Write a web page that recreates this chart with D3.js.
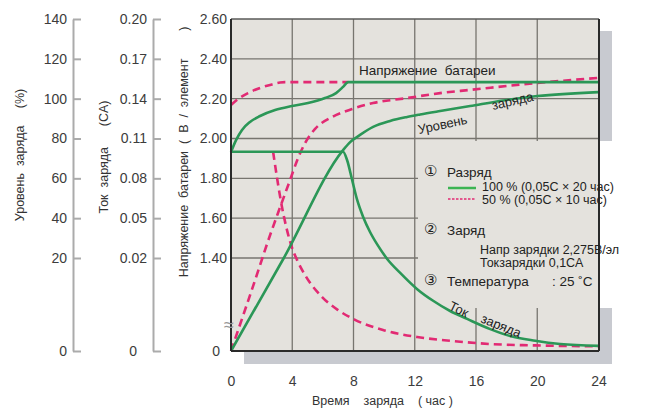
<!DOCTYPE html>
<html>
<head>
<meta charset="utf-8">
<script src="https://cdn.jsdelivr.net/npm/d3@7"></script>
<style>
  body { margin: 0; background: #fff; }
  svg text { font-family: "Liberation Sans", Arial, sans-serif; white-space: pre; }
</style>
</head>
<body>
<div id="chart"></div>
<script>
// 1: DATA (hours, value)
const hourTicks = [0, 4, 8, 12, 16, 20, 24];
const voltTicks = [0, 1.4, 1.6, 1.8, 2.0, 2.2, 2.4, 2.6];
const levelTicks = [0, 20, 40, 60, 80, 100, 120, 140];
const currentTicks = [0, 0.02, 0.05, 0.08, 0.11, 0.14, 0.17, 0.20];
const gridVolts = [1.4, 1.6, 1.8, 2.0, 2.2, 2.4];
const gridHours = [4, 8, 12, 16, 20];

// 100 % discharged (green)
const voltage100 = [[0, 1.932], [0.33, 1.992], [0.72, 2.043], [1.24, 2.083], [1.9, 2.113], [2.88, 2.143],
  [3.99, 2.163], [5.03, 2.178], [6.14, 2.203], [6.86, 2.228], [7.32, 2.259], [7.65, 2.283], [24, 2.283]];
const current100 = [[0, 0.10], [7.32, 0.10], [7.58, 0.0938], [7.91, 0.0788], [8.24, 0.0637], [8.63, 0.0509],
  [9.08, 0.0396], [9.61, 0.0291], [10.2, 0.0198], [11.05, 0.0168], [12.16, 0.0133], [13.2, 0.0108],
  [14.31, 0.0086], [15.42, 0.0069], [16.93, 0.0047], [18.24, 0.0032], [19.87, 0.0022], [21.5, 0.0015], [24, 0.0011]];
const level100 = [[0, 0], [3.45, 20], [7.32, 74.2], [7.78, 78.2], [8.43, 81.8], [9.28, 85.8], [10.39, 88.8],
  [11.5, 90.8], [12.35, 92.05], [13.66, 93.8], [15.62, 96.3], [17.78, 99.1], [20, 101.3], [24, 103.3]];

// 50 % discharged (pink)
const voltage50 = [[0, 2.168], [0.46, 2.198], [1.11, 2.228], [1.9, 2.254], [2.55, 2.269], [3.2, 2.281],
  [3.53, 2.283], [7.65, 2.283]];
const current50 = [[2.75, 0.10], [3.33, 0.0584], [3.99, 0.0276], [4.31, 0.0196], [4.84, 0.0163], [5.95, 0.0116],
  [6.99, 0.0088], [8.1, 0.0067], [9.93, 0.0045], [12.16, 0.0030], [14.31, 0.0022], [16.93, 0.0015],
  [19.87, 0.0012], [24, 0.0010]];
const level50 = [[0, 0], [2.05, 20], [2.22, 24], [3.07, 42.6], [3.86, 59.2], [4.38, 70.2], [4.84, 77.7],
  [5.49, 84.8], [6.6, 90.8], [7.91, 94.8], [9.28, 97.8], [11.5, 100.3], [13.66, 102.8], [15.62, 104.4],
  [20, 107.9], [24, 110.4]];

// 2: SVG + SCALES
const W = 647, H = 412;
const plot = { left: 231, right: 599, top: 19, bottom: 351 };
const svg = d3.select("#chart").append("svg").attr("width", W).attr("height", H);

const x = d3.scaleLinear().domain([0, 24]).range([plot.left, 598.5]);
// the three y axes share one broken scale (compressed bottom part)
const yV = d3.scaleLinear().domain([0, 1.4, 2.6]).range([351, 258, 19]);
const yL = d3.scaleLinear().domain([0, 20, 140]).range([351, 258, 19]);
const yI = d3.scaleLinear().domain([0, 0.02, 0.20]).range([351, 258, 19]);

const green = "#2b9757", pink = "#e22a73";

// 3: PLOT BACKGROUND, SHADOW, GRID
svg.append("rect").attr("x", plot.right).attr("y", 31).attr("width", 13).attr("height", 333).attr("fill", "#c8cad0");
svg.append("rect").attr("x", 244).attr("y", plot.bottom).attr("width", 368).attr("height", 13).attr("fill", "#c8cad0");
svg.append("rect").attr("x", plot.left).attr("y", plot.top)
  .attr("width", plot.right - plot.left).attr("height", plot.bottom - plot.top).attr("fill", "#e4e2dd");

const grid = svg.append("g").attr("stroke", "#77756f").attr("stroke-width", 1.3);
grid.selectAll(".gv").data(gridHours).enter().append("line")
  .attr("x1", d => x(d)).attr("x2", d => x(d)).attr("y1", plot.top).attr("y2", plot.bottom);
grid.selectAll(".gh").data(gridVolts).enter().append("line")
  .attr("x1", plot.left).attr("x2", plot.right).attr("y1", d => yV(d)).attr("y2", d => yV(d));

// legend patch hides the grid
svg.append("rect").attr("x", 418).attr("y", 141).attr("width", plot.right - 418).attr("height", 167).attr("fill", "#e4e2dd");
svg.append("rect").attr("x", plot.right + 1).attr("y", 141).attr("width", 48).attr("height", 167).attr("fill", "#fff");

// 4: CURVES
const line = (ys) => d3.line().x(d => x(d[0])).y(d => ys(d[1])).curve(d3.curveMonotoneX);
const series = [
  { data: voltage50, y: yV, c: pink, dash: "8,5" },
  { data: level50, y: yL, c: pink, dash: "8,5" },
  { data: current50, y: yI, c: pink, dash: "8,5" },
  { data: voltage100, y: yV, c: green, dash: null },
  { data: level100, y: yL, c: green, dash: null },
  { data: current100, y: yI, c: green, dash: null }
];
svg.selectAll(".curve").data(series).enter().append("path")
  .attr("d", d => line(d.y)(d.data))
  .attr("fill", "none")
  .attr("stroke", d => d.c)
  .attr("stroke-width", 2.6)
  .attr("stroke-dasharray", d => d.dash);

// 5: FRAME
svg.append("line").attr("x1", plot.left).attr("x2", plot.right).attr("y1", plot.top).attr("y2", plot.top)
  .attr("stroke", "#5a5a58").attr("stroke-width", 1.6);
svg.append("line").attr("x1", plot.left).attr("x2", plot.right).attr("y1", plot.bottom).attr("y2", plot.bottom)
  .attr("stroke", "#2a2a2a").attr("stroke-width", 2);
svg.append("line").attr("x1", plot.left).attr("x2", plot.left).attr("y1", plot.top).attr("y2", plot.bottom)
  .attr("stroke", "#2a2a2a").attr("stroke-width", 2);
svg.append("line").attr("x1", plot.right).attr("x2", plot.right).attr("y1", plot.top).attr("y2", plot.bottom)
  .attr("stroke", "#2a2a2a").attr("stroke-width", 2);
svg.append("text").attr("x", 229).attr("y", 331).attr("text-anchor", "middle")
  .attr("font-size", 18).attr("fill", "#999").text("≈");

// 6: AXES
const fmt2 = d => d === 0 ? "0" : d.toFixed(2);
function styleAxis(g, lineColor) {
  g.selectAll("text").attr("font-size", 14).attr("fill", "#3c3c3c")
    .style("font-family", "'Liberation Sans', Arial, sans-serif");
  g.selectAll("path, line").attr("stroke", lineColor).attr("stroke-width", 2);
}

const axL = svg.append("g").attr("transform", "translate(73,0)")
  .call(d3.axisLeft(yL).tickValues(levelTicks).tickSizeInner(-8).tickSizeOuter(0).tickPadding(6));
styleAxis(axL, "#ababab");

const axI = svg.append("g").attr("transform", "translate(153,0)")
  .call(d3.axisLeft(yI).tickValues(currentTicks).tickFormat(fmt2).tickSizeInner(-8).tickSizeOuter(0).tickPadding(6));
styleAxis(axI, "#ababab");
axI.selectAll(".tick text").filter(d => d === 0).attr("x", -16);

const axV = svg.append("g").attr("transform", `translate(${plot.left},0)`)
  .call(d3.axisLeft(yV).tickValues(voltTicks).tickFormat(fmt2).tickSize(0).tickPadding(4));
axV.select(".domain").remove();
styleAxis(axV, "none");
axV.selectAll(".tick text").filter(d => d === 0).attr("x", -11);

const axX = svg.append("g").attr("transform", `translate(0,${plot.bottom})`)
  .call(d3.axisBottom(x).tickValues(hourTicks).tickSize(0).tickPadding(25));
axX.select(".domain").remove();
styleAxis(axX, "none");

// 7: AXIS TITLES
const titles = [
  { t: "Уровень  заряда     (%)", x: 20, y: 155 },
  { t: "Ток  заряда      (CA)", x: 104, y: 157 },
  { t: "Напряжение  батареи  (  В  /  элемент        )", x: 184, y: 152 }
];
svg.selectAll(".ytitle").data(titles).enter().append("text")
  .attr("transform", d => `translate(${d.x + 4},${d.y}) rotate(-90)`)
  .attr("text-anchor", "middle").attr("font-size", 12.5).attr("fill", "#333")
  .text(d => d.t);

svg.append("text").attr("x", 312).attr("y", 405).attr("font-size", 12.5).attr("fill", "#333")
  .text("Время    заряда    ( час )");

// 8: CURVE LABELS
const labels = [
  { t: "Напряжение  батареи", x: 359, y: 75, r: 0, s: 13.5 },
  { t: "Уровень", x: 419, y: 134, r: -12, s: 13 },
  { t: "заряда", x: 493, y: 110, r: -13, s: 13 },
  { t: "Ток", x: 448, y: 309, r: 26, s: 13 },
  { t: "заряда", x: 480, y: 322, r: 22, s: 13 }
];
svg.selectAll(".clabel").data(labels).enter().append("text")
  .attr("transform", d => `translate(${d.x},${d.y}) rotate(${d.r})`)
  .attr("font-size", d => d.s).attr("fill", "#222").text(d => d.t);

// 9: LEGEND
const leg = svg.append("g").attr("fill", "#222");
[["①", 176], ["②", 234], ["③", 285]].forEach(([s, yy]) => {
  leg.append("text").attr("x", 424).attr("y", yy).attr("font-size", 15).text(s);
});
leg.append("text").attr("x", 447).attr("y", 177).attr("font-size", 13.5).text("Разряд");
leg.append("line").attr("x1", 448).attr("x2", 476).attr("y1", 188).attr("y2", 188)
  .attr("stroke", "#3cb453").attr("stroke-width", 2.5);
leg.append("text").attr("x", 482).attr("y", 191).attr("font-size", 12.5).text("100 % (0,05C × 20 час)");
leg.append("line").attr("x1", 448).attr("x2", 476).attr("y1", 199).attr("y2", 199)
  .attr("stroke", pink).attr("stroke-width", 1.5).attr("stroke-dasharray", "2.5,1.5");
leg.append("text").attr("x", 482).attr("y", 204).attr("font-size", 12.5).text("50 % (0,05C × 10 час)");
leg.append("text").attr("x", 447).attr("y", 235).attr("font-size", 13.5).text("Заряд");
leg.append("text").attr("x", 480).attr("y", 254).attr("font-size", 12.5).text("Напр зарядки 2,275В/эл");
leg.append("text").attr("x", 480).attr("y", 267).attr("font-size", 12.5).text("Токзарядки 0,1CA");
leg.append("text").attr("x", 447).attr("y", 286).attr("font-size", 13.5).text("Температура");
leg.append("text").attr("x", 552).attr("y", 286).attr("font-size", 13.5).text(": 25 ˚C");
</script>
</body>
</html>
